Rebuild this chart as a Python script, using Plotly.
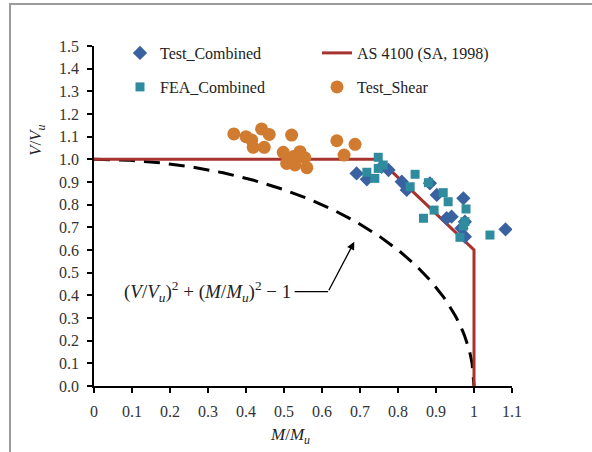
import numpy as np
import plotly.graph_objects as go

# ---- data ----
test_shear_m = [0.368, 0.400, 0.415, 0.441, 0.461, 0.419, 0.448, 0.520,
                0.498, 0.542, 0.507, 0.560, 0.529, 0.525, 0.555, 0.639, 0.687, 0.658]
test_shear_v = [1.112, 1.100, 1.085, 1.134, 1.110, 1.053, 1.053, 1.107,
                1.031, 1.034, 0.982, 0.963, 0.975, 1.012, 1.007, 1.082, 1.066, 1.019]

test_comb_m = [0.691, 0.718, 0.775, 0.757, 0.810, 0.823, 0.884, 0.902,
               0.972, 0.928, 0.941, 0.976, 0.967, 0.976, 1.083]
test_comb_v = [0.938, 0.912, 0.953, 0.967, 0.901, 0.865, 0.894, 0.843,
               0.828, 0.740, 0.747, 0.725, 0.696, 0.659, 0.691]

fea_comb_m = [0.748, 0.718, 0.739, 0.761, 0.748, 0.845, 0.832, 0.880, 0.919,
              0.932, 0.895, 0.867, 0.979, 0.976, 0.972, 0.963, 1.042]
fea_comb_v = [1.009, 0.943, 0.916, 0.975, 0.960, 0.934, 0.879, 0.897, 0.853,
              0.813, 0.776, 0.740, 0.781, 0.725, 0.706, 0.656, 0.666]

as4100_m = [0.0, 0.75, 1.0, 1.0]
as4100_v = [1.0, 1.0, 0.6, 0.0]

# interaction curve (V/Vu)^2 + (M/Mu)^2 = 1
circle_m = np.linspace(0.0, 1.0, 201)
circle_v = np.sqrt(np.clip(1.0 - circle_m ** 2, 0, None))

x_ticks = [0, 0.1, 0.2, 0.3, 0.4, 0.5, 0.6, 0.7, 0.8, 0.9, 1, 1.1]
x_tick_text = ["0", "0.1", "0.2", "0.3", "0.4", "0.5", "0.6", "0.7", "0.8", "0.9", "1", "1.1"]
y_ticks = [round(0.1 * i, 1) for i in range(16)]
y_tick_text = ["%.1f" % v for v in y_ticks]

SERIF = "Liberation Serif, Times New Roman, serif"
RED = "#A8322D"
BLUE = "#3A62A0"
TEAL = "#2F8C9E"
ORANGE = "#D07B30"

# plot area in page pixels
PL, PR, PT, PB = 94, 512, 46, 386
PW, PH = PR - PL, PB - PT


def px(xp):
    return (xp - PL) / PW


def py(yp):
    return (PB - yp) / PH


fig = go.Figure()

fig.add_trace(go.Scatter(x=circle_m, y=circle_v, mode="lines",
                         line=dict(color="black", width=3, dash="16px,9px"),
                         showlegend=False, hoverinfo="skip"))

fig.add_trace(go.Scatter(x=as4100_m, y=as4100_v, mode="lines",
                         name="AS 4100 (SA, 1998)",
                         line=dict(color=RED, width=3),
                         legend="legend", legendrank=2))

fig.add_trace(go.Scatter(x=test_comb_m, y=test_comb_v, mode="markers",
                         name="Test_Combined",
                         marker=dict(symbol="diamond", size=11, color=BLUE),
                         legend="legend", legendrank=1))

fig.add_trace(go.Scatter(x=fea_comb_m, y=fea_comb_v, mode="markers",
                         name="FEA_Combined",
                         marker=dict(symbol="square", size=9, color=TEAL),
                         legend="legend2", legendrank=1))

fig.add_trace(go.Scatter(x=test_shear_m, y=test_shear_v, mode="markers",
                         name="Test_Shear",
                         marker=dict(symbol="circle", size=13, color=ORANGE),
                         legend="legend2", legendrank=2))

# annotation text + elbow arrow
fig.add_annotation(x=0.523, y=0.416, xref="x", yref="y",
                   text="(<i>V</i>/<i>V<sub>u</sub></i>)<sup>2</sup> + (<i>M</i>/<i>M<sub>u</sub></i>)<sup>2</sup> − 1",
                   showarrow=False, xanchor="right", yanchor="middle",
                   font=dict(family=SERIF, size=19, color="#222"))
fig.add_shape(type="line", x0=0.528, y0=0.416, x1=0.616, y1=0.416,
              xref="x", yref="y", line=dict(color="black", width=1.2))
fig.add_annotation(x=0.685, y=0.636, xref="x", yref="y",
                   ax=0.616, ay=0.416, axref="x", ayref="y",
                   text="", showarrow=True, arrowhead=2, arrowsize=1.2,
                   arrowwidth=1.3, arrowcolor="black")

# axis titles
fig.add_annotation(x=px(290), y=py(436), xref="paper", yref="paper",
                   xanchor="center", yanchor="middle",
                   text="<i>M</i>/<i>M<sub>u</sub></i>", showarrow=False,
                   font=dict(family=SERIF, size=17, color="#222"))
fig.add_annotation(x=px(37), y=py(140), xref="paper", yref="paper",
                   xanchor="center", yanchor="middle",
                   text="<i>V</i>/<i>V<sub>u</sub></i>", showarrow=False, textangle=-90,
                   font=dict(family=SERIF, size=17, color="#222"))

# outer border
fig.add_shape(type="rect", xref="paper", yref="paper",
              x0=px(10), x1=px(640), y0=py(500), y1=py(4),
              line=dict(color="#9C9C9C", width=2), layer="below")

axis_common = dict(showgrid=False, zeroline=False, showline=True, linecolor="black",
                   linewidth=1.5, ticks="outside", ticklen=5, tickcolor="black",
                   tickwidth=1.5, tickfont=dict(family=SERIF, size=16, color="#333"))

fig.update_layout(
    width=592, height=452,
    margin=dict(l=PL, r=592 - PR, t=PT, b=452 - PB, autoexpand=False),
    paper_bgcolor="white", plot_bgcolor="white",
    xaxis=dict(range=[0, 1.1], tickvals=x_ticks, ticktext=x_tick_text,
               ticklabelstandoff=5, **axis_common),
    yaxis=dict(range=[0, 1.5], tickvals=y_ticks, ticktext=y_tick_text,
               ticklabelstandoff=5, **axis_common),
    legend=dict(orientation="h", x=px(120), y=py(53),
                xanchor="left", yanchor="middle", entrywidth=152, entrywidthmode="pixels",
                bgcolor="rgba(0,0,0,0)", font=dict(family=SERIF, size=16, color="#222"),
                traceorder="normal"),
    legend2=dict(orientation="h", x=px(120), y=py(87),
                 xanchor="left", yanchor="middle", entrywidth=152, entrywidthmode="pixels",
                 bgcolor="rgba(0,0,0,0)", font=dict(family=SERIF, size=16, color="#222"),
                 traceorder="normal"),
    showlegend=True,
)

fig.write_html("out.html", config={"displayModeBar": False},
               post_script="document.body.style.margin='0px';")
